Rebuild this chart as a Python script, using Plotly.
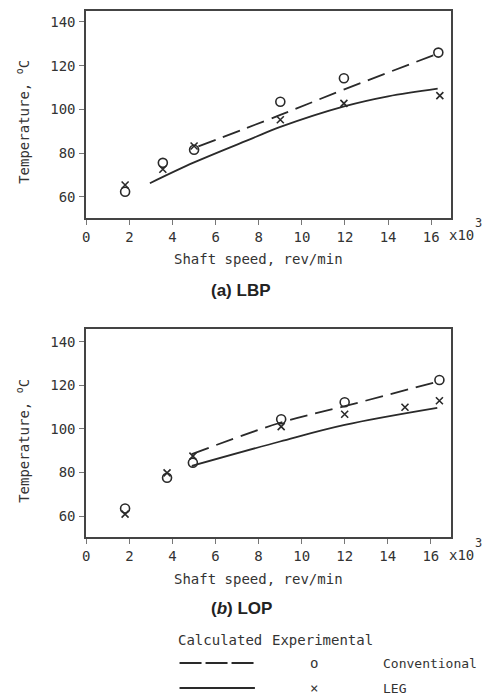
import plotly.graph_objects as go

# ---------------- data ----------------
# (a) LBP
lbp_conv_exp_speed = [1.8, 3.55, 5.0, 9.0, 11.95, 16.33]
lbp_conv_exp_temp = [62.4, 75.6, 81.6, 103.5, 114.3, 126.0]
lbp_leg_exp_speed = [1.8, 3.55, 5.0, 9.0, 11.95, 16.4]
lbp_leg_exp_temp = [65.5, 72.7, 83.3, 95.3, 102.8, 106.3]
lbp_conv_calc_speed = [5.2, 9.0, 12.0, 16.3]
lbp_conv_calc_temp = [83.1, 97.5, 109.3, 125.5]
lbp_leg_calc_speed = [2.95, 5.0, 7.7, 9.0, 12.0, 14.0, 16.3]
lbp_leg_calc_temp = [66.3, 75.8, 86.8, 92.0, 101.5, 106.0, 109.5]

# (b) LOP
lop_conv_exp_speed = [1.8, 3.75, 4.95, 9.05, 12.0, 16.4]
lop_conv_exp_temp = [63.5, 77.6, 84.5, 104.4, 112.2, 122.4]
lop_leg_exp_speed = [1.8, 3.75, 4.95, 9.05, 12.0, 14.8, 16.4]
lop_leg_exp_temp = [60.9, 79.8, 87.5, 101.0, 106.7, 109.9, 112.9]
lop_conv_calc_speed = [4.9, 9.0, 12.0, 16.3]
lop_conv_calc_temp = [88.4, 102.8, 110.4, 121.6]
lop_leg_calc_speed = [4.9, 9.0, 12.0, 16.3]
lop_leg_calc_temp = [83.0, 94.2, 101.8, 109.6]

x_ticks = [0, 2, 4, 6, 8, 10, 12, 14, 16]
y_ticks = [60, 80, 100, 120, 140]

W, H = 483, 696
INK = "#2a2a2a"
MONO = "DejaVu Sans Mono"


def px(x):
    return x / W


def py(y):
    return 1 - y / H


fig = go.Figure()


def add_panel(xa, ya, cs, ct, ls, lt, ccs, cct, lcs, lct):
    fig.add_trace(go.Scatter(x=ccs, y=cct, mode="lines", xaxis=xa, yaxis=ya,
                             line=dict(color=INK, width=1.8, dash="18px,8px", shape="spline"),
                             showlegend=False))
    fig.add_trace(go.Scatter(x=lcs, y=lct, mode="lines", xaxis=xa, yaxis=ya,
                             line=dict(color=INK, width=1.8, shape="spline"),
                             showlegend=False))
    fig.add_trace(go.Scatter(x=cs, y=ct, mode="markers", xaxis=xa, yaxis=ya,
                             marker=dict(symbol="circle-open", size=9, color=INK,
                                         line=dict(width=1.6, color=INK)),
                             showlegend=False))
    fig.add_trace(go.Scatter(x=ls, y=lt, mode="markers", xaxis=xa, yaxis=ya,
                             marker=dict(symbol="x-thin-open", size=7, color=INK,
                                         line=dict(width=1.6, color=INK)),
                             showlegend=False))


add_panel("x", "y", lbp_conv_exp_speed, lbp_conv_exp_temp, lbp_leg_exp_speed, lbp_leg_exp_temp,
          lbp_conv_calc_speed, lbp_conv_calc_temp, lbp_leg_calc_speed, lbp_leg_calc_temp)
add_panel("x2", "y2", lop_conv_exp_speed, lop_conv_exp_temp, lop_leg_exp_speed, lop_leg_exp_temp,
          lop_conv_calc_speed, lop_conv_calc_temp, lop_leg_calc_speed, lop_leg_calc_temp)

xdom = [px(83), px(451)]
axis_common = dict(showgrid=False, zeroline=False, showline=True, linecolor="#444",
                   linewidth=2, mirror=True, ticks="outside", ticklen=5, tickwidth=1,
                   tickcolor="#777", tickfont=dict(family=MONO, size=14, color="#333"))

fig.update_layout(
    width=W, height=H, autosize=False,
    margin=dict(l=0, r=0, t=0, b=0),
    paper_bgcolor="white", plot_bgcolor="white",
    xaxis=dict(domain=xdom, range=[0, 16.93], tickvals=x_ticks, anchor="y", **axis_common),
    yaxis=dict(domain=[py(218), py(11)], range=[50.4, 145.0], tickvals=y_ticks, anchor="x",
               ticklabelstandoff=1, **axis_common),
    xaxis2=dict(domain=xdom, range=[0, 16.95], tickvals=x_ticks, anchor="y2", **axis_common),
    yaxis2=dict(domain=[py(537), py(329)], range=[50.4, 145.8], tickvals=y_ticks, anchor="x2",
                ticklabelstandoff=1, **axis_common),
)

ann = []


def text(x, y, s, size=14, xanchor="center", family=MONO, angle=0, color="#333"):
    ann.append(dict(x=px(x), y=py(y), xref="paper", yref="paper", text=s, showarrow=False,
                    xanchor=xanchor, yanchor="middle", textangle=angle,
                    font=dict(family=family, size=size, color=color)))


for ycen, xt, tk, sub, subtxt in [(122, 259, 235, 290, "(a) LBP"), (441, 579, 555, 608, "(<i>b</i>) LOP")]:
    text(19, ycen, "Temperature, <sup>o</sup>C", angle=-90)
    text(257, xt, "Shaft speed, rev/min")
    text(447, tk, "x10", xanchor="left")
    text(478, tk - 12, "3", size=12)
    text(239, sub, "<b>" + subtxt + "</b>", size=17, family="Liberation Sans", color="#222")

# legend block
text(173, 640, "Calculated", xanchor="left")
text(268, 640, "Experimental", xanchor="left")
text(313, 663, "o", size=14)
text(313, 688, "×", size=14)
text(380, 663, "Conventional", xanchor="left", size=13)
text(380, 688, "LEG", xanchor="left", size=13)
fig.update_layout(annotations=ann)

fig.add_shape(type="line", xref="paper", yref="paper", x0=px(177), x1=px(253), y0=py(663), y1=py(663),
              line=dict(color=INK, width=2, dash="22px,4px"))
fig.add_shape(type="line", xref="paper", yref="paper", x0=px(177), x1=px(253), y0=py(688), y1=py(688),
              line=dict(color=INK, width=2))

fig.write_html("out.html", config={"displayModeBar": False},
               post_script="document.body.style.margin='0';document.body.style.padding='0';"
                           "document.documentElement.style.overflow='hidden';")
